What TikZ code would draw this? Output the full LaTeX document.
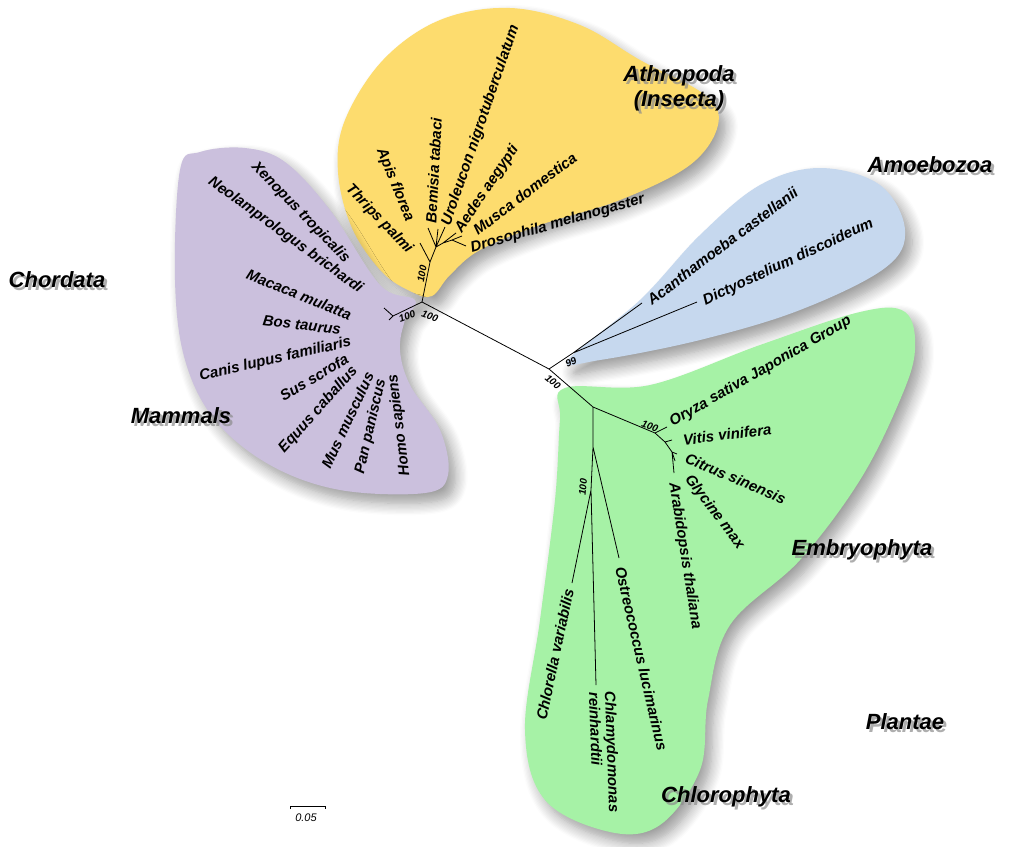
\documentclass[tikz,border=0pt]{standalone}
\usepackage{fontspec}
\setmainfont{Liberation Sans}
\usetikzlibrary{shadows.blur}
\definecolor{cyel}{HTML}{FDDC6E}
\definecolor{cpur}{HTML}{CBC0DD}
\definecolor{cblu}{HTML}{C6D8EE}
\definecolor{cgrn}{HTML}{A6F2A6}
\begin{document}
\begin{tikzpicture}[x=1pt,y=-1pt,
  lab/.style={font=\fontsize{15}{16}\selectfont\bfseries\itshape, inner sep=1pt},
  grp/.style={font=\fontsize{22}{25}\selectfont\bfseries\itshape, align=center},
  grpsh/.style={grp, text=black!45, text opacity=0.7},
  bs/.style={font=\fontsize{10}{11}\selectfont\bfseries\itshape, inner sep=0.5pt},
  blob/.style={blur shadow={shadow xshift=7pt,shadow yshift=-9pt,shadow blur steps=10,shadow blur radius=12pt}},
  br/.style={line width=0.8pt}]
\useasboundingbox (0,0) rectangle (1024,846);
% blobs
\fill[cyel,blob] plot[smooth cycle,tension=0.6] coordinates {(345,120) (383,60) (440,20) (510,8) (580,25) (640,60) (705,95) (718,125) (690,165) (620,200) (540,225) (480,250) (450,275) (432,296) (412,292) (382,272) (352,228) (338,172)};
\fill[cpur,blob] plot[smooth cycle,tension=0.6] coordinates {(180,170) (200,152) (245,148) (285,162) (330,210) (380,285) (415,300) (405,320) (400,350) (410,385) (440,430) (448,475) (425,493) (340,490) (270,465) (215,420) (185,360) (175,280)};
\fill[cblu,blob] plot[smooth cycle,tension=0.6] coordinates {(568,360) (640,300) (700,235) (760,185) (820,168) (880,185) (905,230) (885,268) (800,310) (700,340) (600,360)};
\fill[cgrn,blob] plot[smooth cycle,tension=0.6] coordinates {(565,388) (650,385) (760,345) (860,312) (905,312) (915,350) (900,400) (860,480) (800,560) (730,625) (708,700) (700,770) (660,825) (610,832) (545,800) (525,730) (540,620) (555,500) (560,420)};
% tree coordinates
\coordinate (r) at (422,302);
\coordinate (ins) at (430,262);
\coordinate (ins2) at (436,247);
\coordinate (ins3) at (443,243);
\coordinate (ins4) at (452,240);
\coordinate (cho) at (393,316);
\coordinate (c) at (549,369);
\coordinate (amo) at (573,353);
\coordinate (pl) at (593,407);
\coordinate (emb) at (655,433);
\coordinate (emb2) at (665,442);
\coordinate (emb3) at (672,452);
\coordinate (chl) at (593,447);
\coordinate (chl2) at (591,490);
% tips
\coordinate (tThr) at (420,243);
\coordinate (tApi) at (428,228);
\coordinate (tBem) at (438,229);
\coordinate (tUro) at (445,227);
\coordinate (tAed) at (456,233);
\coordinate (tMus) at (462,236);
\coordinate (tDro) at (466,246);
\coordinate (tCh1) at (384,308);
\coordinate (tCh2) at (389,320);
\coordinate (tAca) at (642,303);
\coordinate (tDic) at (697,302);
\coordinate (tOry) at (667,427);
\coordinate (tVit) at (672,440);
\coordinate (tCit) at (677,454);
\coordinate (tGly) at (675,461);
\coordinate (tAra) at (674,473);
\coordinate (tOst) at (619,558);
\coordinate (tChm) at (596,685);
\coordinate (tCho) at (572,583);
\draw[br] (r)--(ins) (ins)--(tThr) (ins)--(ins2) (ins2)--(tApi) (ins2)--(tBem) (ins2)--(tUro)
  (ins2)--(ins3) (ins3)--(tAed) (ins3)--(ins4) (ins4)--(tMus) (ins4)--(tDro);
\draw[br] (r)--(cho) (cho)--(tCh1) (cho)--(tCh2);
\draw[br] (r)--(c) (c)--(amo) (amo)--(tAca) (amo)--(tDic) (c)--(pl) (pl)--(emb) (emb)--(tOry) (emb)--(emb2) (emb2)--(tVit)
  (emb2)--(emb3) (emb3)--(tCit) (emb3)--(tGly) (emb3)--(tAra);
\draw[br] (pl)--(chl) (chl)--(tOst) (chl)--(chl2) (chl2)--(tChm) (chl2)--(tCho);
% insect labels
\node[lab,anchor=east,rotate=-46] (lThr) at (411,252) {Thrips palmi};
\node[lab,anchor=east,rotate=-68] (lApi) at (410,222) {Apis florea};
\node[lab,anchor=west,rotate=87] (lBem) at (431,224) {Bemisia tabaci};
\node[lab,anchor=west,rotate=71] (lUro) at (446,226) {Uroleucon nigrotuberculatum};
\node[lab,anchor=west,rotate=56] (lAed) at (458,232) {Aedes aegypti};
\node[lab,anchor=west,rotate=37] (lMus) at (474,232) {Musca domestica};
\node[lab,anchor=west,rotate=16] (lDro) at (470,249) {Drosophila melanogaster};
% chordata labels
\node[lab,anchor=east,rotate=-46] (l1) at (348,262) {Xenopus tropicalis};
\node[lab,anchor=east,rotate=-36] (l2) at (362,291) {Neolamprologus brichardi};
\node[lab,anchor=east,rotate=-22] (l3) at (352,316) {Macaca mulatta};
\node[lab,anchor=east,rotate=-7] (l4) at (342,330) {Bos taurus};
\node[lab,anchor=east,rotate=13] (l5) at (352,342) {Canis lupus familiaris};
\node[lab,anchor=east,rotate=31] (l6) at (348,357) {Sus scrofa};
\node[lab,anchor=east,rotate=48] (l7) at (356,368) {Equus caballus};
\node[lab,anchor=east,rotate=65] (l8) at (370,372) {Mus musculus};
\node[lab,anchor=east,rotate=77] (l9) at (382,378) {Pan paniscus};
\node[lab,anchor=east,rotate=97] (l10) at (393,373) {Homo sapiens};
% amoebozoa
\node[lab,anchor=west,rotate=37] (lAca) at (648,302) {Acanthamoeba castellanii};
\node[lab,anchor=west,rotate=25] (lDic) at (703,302) {Dictyostelium discoideum};
% plants
\node[lab,anchor=west,rotate=30] (lOry) at (670,424) {Oryza sativa Japonica Group};
\node[lab,anchor=west,rotate=7] (lVit) at (682,440) {Vitis vinifera};
\node[lab,anchor=west,rotate=-23] (lCit) at (685,457) {Citrus sinensis};
\node[lab,anchor=west,rotate=-53] (lGly) at (687,476) {Glycine max};
\node[lab,anchor=west,rotate=-81] (lAra) at (673,482) {Arabidopsis thaliana};
\node[lab,anchor=west,rotate=-77] (lOst) at (620,566) {Ostreococcus lucimarinus};
\node[lab,anchor=north west,rotate=-88,align=left] (lChm) at (617,690) {Chlamydomonas\\reinhardtii};
\node[lab,anchor=east,rotate=78] (lCho) at (569,588) {Chlorella variabilis};
% bootstrap
\node[bs,rotate=80] (b1) at (422,274) {100};
\node[bs,rotate=20] (b2) at (407,316) {100};
\node[bs,rotate=-20] (b3) at (430,316) {100};
\node[bs,rotate=25] (b4) at (571,362) {99};
\node[bs,rotate=-40] (b5) at (553,382) {100};
\node[bs,rotate=-20] (b6) at (650,426) {100};
\node[bs,rotate=85] (b7) at (583,487) {100};
% group shadows
\node[grpsh] (sA) at (682,91) {Athropoda\\(\textit{Insecta})};
\node[grpsh] (sB) at (933,168) {Amoebozoa};
\node[grpsh] (sC) at (60,283) {Chordata};
\node[grpsh] (sM) at (184,419) {Mammals};
\node[grpsh] (sE) at (865,553) {Embryophyta};
\node[grpsh] (sP) at (908,725) {Plantae};
\node[grpsh] (sH) at (729,800) {Chlorophyta};
% groups
\node[grp] (gA) at (679,88) {Athropoda\\(\textit{Insecta})};
\node[grp] (gB) at (930,165) {Amoebozoa};
\node[grp] (gC) at (57,280) {Chordata};
\node[grp] (gM) at (181,416) {Mammals};
\node[grp] (gE) at (862,550) {Embryophyta};
\node[grp] (gP) at (905,722) {Plantae};
\node[grp] (gH) at (726,797) {Chlorophyta};
% scale bar
\coordinate (s1) at (290,806);
\coordinate (s2) at (325,806);
\draw[line width=0.7pt] ([yshift=-3pt]s1)--(s1)--(s2)--([yshift=-3pt]s2);
\node[bs,font=\fontsize{11}{12}\selectfont\itshape] (sl) at (306,818) {0.05};
\end{tikzpicture}
\end{document}
